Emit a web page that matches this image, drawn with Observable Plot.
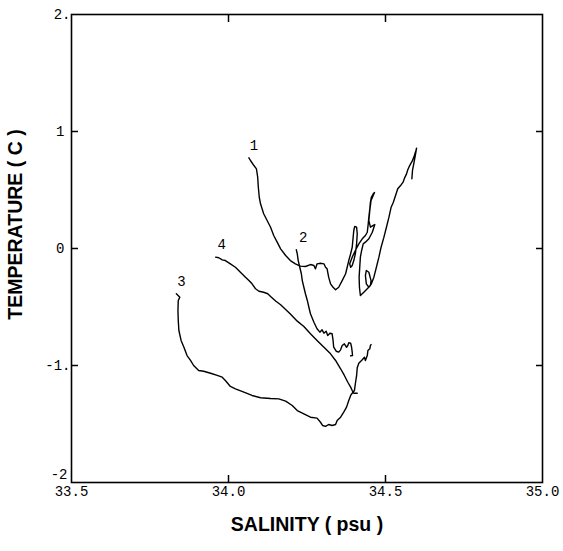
<!DOCTYPE html>
<html>
<head>
<meta charset="utf-8">
<script src="https://cdn.jsdelivr.net/npm/d3@7"></script>
<script src="https://cdn.jsdelivr.net/npm/@observablehq/plot@0.6"></script>
<style>
  html, body { margin: 0; padding: 0; background: #fff; }
</style>
</head>
<body>
<div id="chart"></div>
<script>
// Curve 1
const sal1 = [34.065,34.070,34.081,34.089,34.093,34.095,34.098,34.102,34.112,34.123,34.134,34.144,34.155,34.166,34.182,34.197,34.213,34.229,34.245,34.261,34.272,34.277,34.282,34.293,34.304,34.309,34.314,34.319,34.325,34.333,34.341,34.351,34.362,34.373,34.378,34.383,34.389,34.394,34.397,34.399,34.402,34.408,34.410,34.408,34.404,34.399,34.394,34.389,34.386,34.394,34.404,34.415,34.426,34.436,34.442,34.445,34.447,34.450,34.452,34.455,34.461,34.465,34.454,34.450,34.447,34.452,34.461,34.466,34.458,34.447,34.436,34.429,34.424,34.420,34.418,34.416,34.417,34.420,34.431,34.442,34.452,34.454,34.447,34.439,34.436,34.439,34.447,34.455,34.463,34.471,34.479,34.486,34.495,34.503,34.511,34.518,34.525,34.532,34.539,34.548,34.556,34.561,34.567,34.571,34.577,34.585,34.592,34.597,34.599,34.595,34.590,34.586,34.584];
const temp1 = [0.775,0.752,0.709,0.681,0.609,0.524,0.438,0.382,0.297,0.239,0.182,0.111,0.054,-0.003,-0.060,-0.103,-0.131,-0.151,-0.154,-0.137,-0.145,-0.174,-0.131,-0.126,-0.131,-0.160,-0.174,-0.245,-0.302,-0.331,-0.353,-0.331,-0.274,-0.216,-0.160,-0.103,-0.045,0.011,0.097,0.154,0.188,0.182,0.126,0.040,-0.045,-0.103,-0.145,-0.160,-0.131,-0.074,-0.017,0.040,0.083,0.111,0.139,0.211,0.268,0.339,0.396,0.438,0.468,0.479,0.410,0.325,0.239,0.182,0.197,0.205,0.139,0.083,0.054,0.040,-0.017,-0.074,-0.160,-0.245,-0.331,-0.402,-0.374,-0.344,-0.316,-0.274,-0.203,-0.188,-0.231,-0.302,-0.331,-0.302,-0.245,-0.160,-0.074,0.011,0.097,0.182,0.268,0.353,0.396,0.453,0.510,0.538,0.567,0.604,0.638,0.673,0.709,0.746,0.795,0.838,0.857,0.795,0.724,0.667,0.596];

// Curve 2
const sal2 = [34.216,34.219,34.222,34.227,34.232,34.235,34.240,34.245,34.251,34.256,34.261,34.272,34.282,34.291,34.298,34.304,34.311,34.316,34.323,34.330,34.333,34.335,34.343,34.351,34.357,34.362,34.369,34.376,34.380,34.383,34.389,34.392,34.394,34.395,34.389];
const temp2 = [-0.011,-0.045,-0.103,-0.160,-0.216,-0.274,-0.331,-0.387,-0.444,-0.502,-0.558,-0.630,-0.686,-0.715,-0.695,-0.724,-0.707,-0.744,-0.724,-0.729,-0.786,-0.844,-0.878,-0.886,-0.866,-0.829,-0.815,-0.844,-0.829,-0.806,-0.809,-0.844,-0.886,-0.915,-0.917];

// Curve 3
const sal3 = [33.834,33.845,33.840,33.839,33.840,33.842,33.849,33.858,33.868,33.879,33.889,33.905,33.921,33.943,33.964,33.980,33.990,34.006,34.022,34.049,34.075,34.102,34.134,34.160,34.182,34.203,34.219,34.240,34.261,34.282,34.293,34.300,34.309,34.319,34.330,34.341,34.346,34.357,34.367,34.376,34.383,34.389,34.394,34.401,34.404,34.408,34.410,34.415,34.426,34.433,34.436,34.442,34.444,34.450,34.452,34.454];
const temp3 = [-0.387,-0.416,-0.444,-0.530,-0.615,-0.701,-0.786,-0.844,-0.915,-0.957,-1.000,-1.043,-1.049,-1.066,-1.085,-1.100,-1.128,-1.179,-1.199,-1.228,-1.256,-1.276,-1.282,-1.285,-1.305,-1.342,-1.385,-1.413,-1.442,-1.450,-1.485,-1.513,-1.521,-1.504,-1.513,-1.504,-1.470,-1.442,-1.399,-1.356,-1.299,-1.256,-1.237,-1.214,-1.156,-1.085,-1.020,-0.980,-0.951,-0.929,-0.957,-0.915,-0.872,-0.857,-0.829,-0.821];

// Curve 4
const sal4 = [33.959,33.969,33.980,33.990,34.006,34.022,34.038,34.054,34.065,34.075,34.086,34.097,34.112,34.125,34.134,34.150,34.166,34.182,34.197,34.219,34.240,34.261,34.282,34.304,34.325,34.341,34.357,34.369,34.380,34.389,34.394,34.399,34.410];
const temp4 = [-0.074,-0.079,-0.097,-0.103,-0.131,-0.160,-0.203,-0.245,-0.274,-0.302,-0.344,-0.365,-0.374,-0.387,-0.410,-0.449,-0.481,-0.521,-0.560,-0.621,-0.667,-0.729,-0.786,-0.844,-0.900,-0.957,-1.028,-1.085,-1.143,-1.185,-1.214,-1.237,-1.237];

// Curve labels
const curveNames = ["1", "2", "3", "4"];
const labelSal = [34.081, 34.238, 33.850, 33.978];
const labelTemp = [0.880, 0.097, -0.282, 0.034];

// Axes
const xTickValues = [33.5, 34.0, 34.5, 35.0];
const xTickLabels = ["33.5", "34.0", "34.5", "35.0"];
const yTickValues = [2, 1, 0, -1, -2];
const yTickLabels = ["2.", "1", "0", "-1.", "-2"];
const yTicksDotted = [2, -1];
const yTicksPlain = [1, 0];
const yTicksBottom = [-2];
const xInnerTicks = [34.0, 34.5];
const yInnerTicks = [1, 0, -1];
const xTitle = "SALINITY ( psu )";
const yTitle = "TEMPERATURE ( C )";

const series = [[sal1, temp1], [sal2, temp2], [sal3, temp3], [sal4, temp4]];
const rows = [];
series.forEach(([s, t], k) => {
  s.forEach((v, i) => rows.push({curve: curveNames[k], s: v, t: t[i]}));
});
const labels = curveNames.map((n, i) => ({name: n, s: labelSal[i], t: labelTemp[i]}));

const mono = "Liberation Mono, DejaVu Sans Mono, monospace";
const sans = "Liberation Sans, Arial, sans-serif";
const yFmt = d => yTickLabels[yTickValues.indexOf(d)];

const chart = Plot.plot({
  width: 563,
  height: 551,
  marginLeft: 71,
  marginRight: 21,
  marginTop: 14,
  marginBottom: 69,
  style: {background: "#fff", color: "#000"},
  x: {domain: [33.5, 35.0]},
  y: {domain: [-2, 2]},
  marks: [
    Plot.axisX({anchor: "bottom", ticks: xInnerTicks, tickSize: -7, strokeWidth: 1.5, fill: "none", label: null}),
    Plot.axisX({anchor: "top", ticks: xInnerTicks, tickSize: -7, strokeWidth: 1.5, fill: "none", label: null}),
    Plot.axisY({anchor: "left", ticks: yInnerTicks, tickSize: -7, strokeWidth: 1.5, fill: "none", label: null}),
    Plot.axisY({anchor: "right", ticks: yInnerTicks, tickSize: -7, strokeWidth: 1.5, fill: "none", label: null}),
    Plot.axisX({anchor: "bottom", ticks: xTickValues, tickSize: 0, tickPadding: 4, label: null,
      tickFormat: d => xTickLabels[xTickValues.indexOf(d)], fontFamily: mono, fontSize: 14}),
    Plot.axisY({anchor: "left", ticks: yTicksDotted, tickSize: 0, tickPadding: 1, label: null,
      tickFormat: yFmt, fontFamily: mono, fontSize: 14}),
    Plot.axisY({anchor: "left", ticks: yTicksPlain, tickSize: 0, tickPadding: 7, label: null,
      tickFormat: yFmt, fontFamily: mono, fontSize: 14}),
    Plot.axisY({anchor: "left", ticks: yTicksBottom, tickSize: 0, tickPadding: 4, dy: -8, label: null,
      tickFormat: yFmt, fontFamily: mono, fontSize: 14}),
    Plot.frame({stroke: "#000", strokeWidth: 1.6}),
    Plot.line(rows, {x: "s", y: "t", z: "curve", stroke: "#000", strokeWidth: 1.4, strokeLinejoin: "round"}),
    Plot.text(labels, {x: "s", y: "t", text: "name", fontFamily: mono, fontSize: 14, fill: "#000"}),
    Plot.text([xTitle], {text: d => d, frameAnchor: "bottom", dy: 42, lineAnchor: "middle", textAnchor: "middle",
      fontFamily: sans, fontWeight: "bold", fontSize: 19.5, fill: "#000"}),
    Plot.text([yTitle], {text: d => d, frameAnchor: "left", dx: -56, dy: -24, rotate: -90, lineAnchor: "middle", textAnchor: "middle",
      fontFamily: sans, fontWeight: "bold", fontSize: 19.5, fill: "#000"})
  ]
});
document.getElementById("chart").appendChild(chart);
</script>
</body>
</html>
